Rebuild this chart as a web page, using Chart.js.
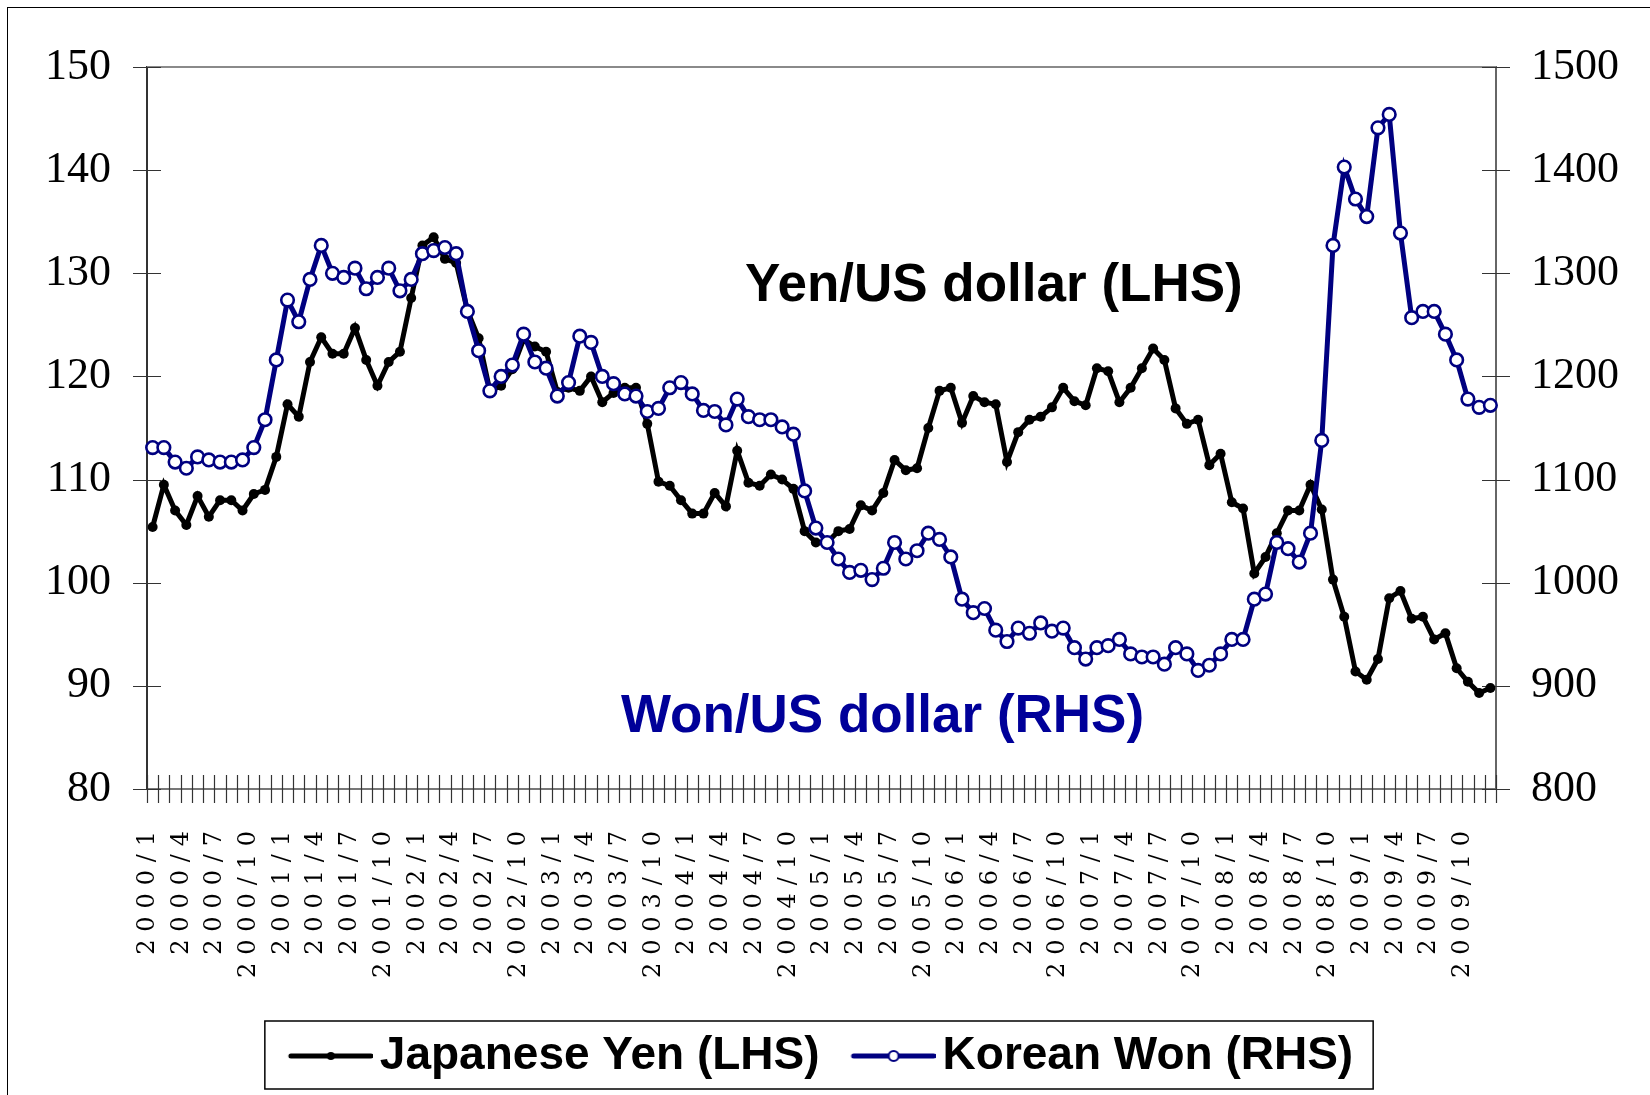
<!DOCTYPE html>
<html>
<head>
<meta charset="utf-8">
<script src="https://cdn.jsdelivr.net/npm/chart.js@4.4.1/dist/chart.umd.min.js"></script>
<style>
html, body { margin: 0; padding: 0; background: #fff; overflow: hidden; }
#frame { position: absolute; left: 7px; top: 7px; width: 1700px; height: 1200px; border-left: 1.5px solid #000; border-top: 1.5px solid #000; }
#chart { position: absolute; left: 0; top: 0; }
</style>
</head>
<body>
<div id="frame"></div>
<canvas id="chart" width="1650" height="1095"></canvas>
<script>
// monthly categories, 2000/1 .. 2009/12
var months = [
  '2000/1','2000/2','2000/3','2000/4','2000/5','2000/6','2000/7','2000/8','2000/9','2000/10','2000/11','2000/12',
  '2001/1','2001/2','2001/3','2001/4','2001/5','2001/6','2001/7','2001/8','2001/9','2001/10','2001/11','2001/12',
  '2002/1','2002/2','2002/3','2002/4','2002/5','2002/6','2002/7','2002/8','2002/9','2002/10','2002/11','2002/12',
  '2003/1','2003/2','2003/3','2003/4','2003/5','2003/6','2003/7','2003/8','2003/9','2003/10','2003/11','2003/12',
  '2004/1','2004/2','2004/3','2004/4','2004/5','2004/6','2004/7','2004/8','2004/9','2004/10','2004/11','2004/12',
  '2005/1','2005/2','2005/3','2005/4','2005/5','2005/6','2005/7','2005/8','2005/9','2005/10','2005/11','2005/12',
  '2006/1','2006/2','2006/3','2006/4','2006/5','2006/6','2006/7','2006/8','2006/9','2006/10','2006/11','2006/12',
  '2007/1','2007/2','2007/3','2007/4','2007/5','2007/6','2007/7','2007/8','2007/9','2007/10','2007/11','2007/12',
  '2008/1','2008/2','2008/3','2008/4','2008/5','2008/6','2008/7','2008/8','2008/9','2008/10','2008/11','2008/12',
  '2009/1','2009/2','2009/3','2009/4','2009/5','2009/6','2009/7','2009/8','2009/9','2009/10','2009/11','2009/12'
];

// yen per US dollar (left axis)
var yen = [
  105.4, 109.5, 107.0, 105.6, 108.4, 106.4, 108.0, 108.0, 107.0, 108.6, 109.0, 112.2,
  117.3, 116.1, 121.4, 123.8, 122.2, 122.2, 124.7, 121.6, 119.1, 121.4, 122.4, 127.6,
  132.7, 133.5, 131.4, 131.0, 126.4, 123.7, 118.6, 119.1, 120.7, 123.6, 122.9, 122.4,
  118.5, 118.9, 118.6, 120.0, 117.5, 118.4, 118.9, 118.9, 115.4, 109.8, 109.4, 108.0,
  106.7, 106.7, 108.7, 107.4, 112.8, 109.7, 109.4, 110.5, 110.0, 109.1, 105.0, 103.9,
  103.9, 105.0, 105.2, 107.5, 107.0, 108.7, 111.9, 110.9, 111.1, 115.0, 118.6, 118.9,
  115.5, 118.1, 117.5, 117.3, 111.7, 114.6, 115.8, 116.1, 117.0, 118.9, 117.6, 117.2,
  120.8, 120.5, 117.5, 118.9, 120.8, 122.7, 121.6, 116.9, 115.4, 115.8, 111.4, 112.5,
  107.8, 107.2, 100.9, 102.5, 104.8, 107.0, 107.0, 109.5, 107.1, 100.3, 96.7, 91.4,
  90.6, 92.6, 98.5, 99.2, 96.5, 96.7, 94.5, 95.1, 91.7, 90.4, 89.3, 89.8
];

// won per US dollar (right axis)
var won = [
  1131, 1131, 1117, 1111, 1122, 1119, 1117, 1117, 1119, 1131, 1158, 1216,
  1274, 1253, 1294, 1327, 1300, 1296, 1305, 1285, 1296, 1305, 1283, 1294,
  1319, 1322, 1325, 1319, 1263, 1225, 1186, 1200, 1211, 1241, 1214, 1208,
  1181, 1194, 1239, 1233, 1200, 1193, 1183, 1181, 1166, 1169, 1189, 1194,
  1183, 1167, 1166, 1153, 1178, 1161, 1158, 1158, 1151, 1144, 1089, 1053,
  1039, 1023, 1010, 1012, 1003, 1014, 1039, 1023, 1031, 1048, 1042, 1025,
  984, 971, 975, 954, 943, 956, 951, 961, 953, 956, 937, 926,
  937, 939, 945, 931, 928, 928, 921, 937, 931, 915, 920, 931,
  945, 945, 984, 989, 1039, 1033, 1020, 1048, 1138, 1327, 1403, 1372,
  1355, 1441, 1454, 1339, 1257, 1263, 1263, 1241, 1216, 1178, 1170, 1172
];

var yenColor = '#000000';
var wonColor = '#000080';

function legendMarker(color, fill, radius, ring) {
  var c = document.createElement('canvas');
  c.width = 92; c.height = 20;
  var g = c.getContext('2d');
  g.strokeStyle = color; g.lineWidth = 5; g.lineCap = 'round';
  g.beginPath(); g.moveTo(10, 10); g.lineTo(90, 10); g.stroke();
  g.beginPath(); g.arc(50, 10, radius, 0, Math.PI * 2);
  g.fillStyle = fill; g.fill();
  if (ring) { g.lineWidth = ring; g.stroke(); }
  return c;
}
var markers = [legendMarker(yenColor, yenColor, 4, 0), legendMarker(wonColor, '#fff', 5, 2.2)];

// axis ticks crossing the axes, top edge, spaced x labels
var axisDecor = {
  id: 'axisDecor',
  beforeDraw: function (chart) {
    var sc = chart.scales.x;
    if (!sc._spaced) {
      var orig = sc.drawLabels;
      sc.drawLabels = function (area) {
        this.ctx.save();
        this.ctx.letterSpacing = '7.9px';
        orig.call(this, area);
        this.ctx.restore();
      };
      sc._spaced = true;
    }
  },
  beforeDatasetsDraw: function (chart) {
    var ctx = chart.ctx, a = chart.chartArea;
    var x = chart.scales.x, yl = chart.scales.y, yr = chart.scales.y1;
    ctx.save();
    ctx.strokeStyle = '#8a8a8a';
    ctx.lineWidth = 2;
    ctx.beginPath(); ctx.moveTo(a.left, a.top); ctx.lineTo(a.right, a.top); ctx.stroke();
    ctx.strokeStyle = '#333';
    ctx.lineWidth = 1.2;
    ctx.beginPath();
    for (var i = 0; i <= months.length; i++) {
      var px = Math.round(x.getPixelForValue(i - 0.5)) + 0.5;
      ctx.moveTo(px, a.bottom - 14); ctx.lineTo(px, a.bottom + 14);
    }
    yl.ticks.forEach(function (t) {
      var py = Math.round(yl.getPixelForValue(t.value)) + 0.5;
      ctx.moveTo(a.left - 14, py); ctx.lineTo(a.left + 14, py);
    });
    yr.ticks.forEach(function (t) {
      var py = Math.round(yr.getPixelForValue(t.value)) + 0.5;
      ctx.moveTo(a.right - 14, py); ctx.lineTo(a.right + 14, py);
    });
    ctx.stroke();
    ctx.restore();
  },
  afterDraw: function (chart) {
    var ctx = chart.ctx, a = chart.chartArea;
    ctx.save();
    ctx.font = 'bold 53px "Liberation Sans", Arial, sans-serif';
    ctx.textAlign = 'left';
    ctx.textBaseline = 'alphabetic';
    ctx.fillStyle = '#000';
    ctx.fillText('Yen/US dollar (LHS)', a.left + 598, a.top + 234);
    ctx.fillStyle = '#000099';
    ctx.fillText('Won/US dollar (RHS)', a.left + 474, a.top + 665);
    // box round the legend
    var hb = chart.legend.legendHitBoxes;
    if (hb && hb.length > 1) {
      var l = hb[0].left - 32, r = hb[1].left + hb[1].width + 20;
      var t = hb[0].top - 12, b = hb[0].top + hb[0].height + 10;
      ctx.strokeStyle = '#000';
      ctx.lineWidth = 1.5;
      ctx.strokeRect(l, t, r - l, b - t);
    }
    ctx.restore();
  }
};

var chart = new Chart(document.getElementById('chart'), {
  type: 'line',
  data: {
    labels: months,
    datasets: [
      {
        label: 'Japanese Yen (LHS)',
        data: yen,
        yAxisID: 'y',
        order: 2,
        borderColor: yenColor,
        backgroundColor: yenColor,
        borderWidth: 5,
        pointRadius: 5,
        pointBackgroundColor: yenColor,
        pointBorderColor: yenColor,
        pointBorderWidth: 0,
        tension: 0
      },
      {
        label: 'Korean Won (RHS)',
        data: won,
        yAxisID: 'y1',
        order: 1,
        borderColor: wonColor,
        backgroundColor: '#fff',
        borderWidth: 5,
        pointRadius: 6.3,
        pointBackgroundColor: '#fff',
        pointBorderColor: wonColor,
        pointBorderWidth: 2.6,
        tension: 0
      }
    ]
  },
  options: {
    responsive: false,
    animation: false,
    devicePixelRatio: 1,
    layout: { padding: { top: 67, left: 0, right: 0, bottom: 6 } },
    plugins: {
      tooltip: { enabled: false },
      legend: {
        position: 'bottom',
        labels: {
          usePointStyle: true,
          pointStyleWidth: 60,
          padding: 40,
          color: '#000',
          font: { family: 'Liberation Sans', size: 46, weight: 'bold' },
          generateLabels: function (chart) {
            var items = Chart.defaults.plugins.legend.labels.generateLabels(chart);
            items.forEach(function (it) { it.pointStyle = markers[it.datasetIndex]; });
            return items;
          },
          sort: function (a, b) { return a.datasetIndex - b.datasetIndex; }
        }
      }
    },
    scales: {
      x: {
        offset: true,
        grid: { display: false, drawTicks: false },
        border: { display: true, color: '#777', width: 2 },
        afterFit: function (s) { s.height = 204; },
        ticks: {
          autoSkip: false,
          minRotation: 90,
          maxRotation: 90,
          padding: 34,
          labelOffset: -5,
          color: '#000',
          font: { family: 'DejaVu Serif', size: 24 },
          callback: function (value, index) {
            return index % 3 === 0 ? this.getLabelForValue(value) : '';
          }
        }
      },
      y: {
        position: 'left',
        min: 80,
        max: 150,
        grid: { display: false, drawTicks: false },
        border: { display: true, color: '#333', width: 2 },
        afterFit: function (s) { s.width = 147; },
        ticks: {
          stepSize: 10,
          padding: 36,
          color: '#000',
          font: { family: 'Liberation Serif', size: 44 }
        }
      },
      y1: {
        position: 'right',
        min: 800,
        max: 1500,
        grid: { display: false, drawTicks: false },
        border: { display: true, color: '#666', width: 2 },
        afterFit: function (s) { s.width = 154; },
        ticks: {
          stepSize: 100,
          padding: 35,
          color: '#000',
          font: { family: 'Liberation Serif', size: 44 },
          callback: function (value) { return String(value); }
        }
      }
    }
  },
  plugins: [axisDecor]
});
</script>
</body>
</html>
